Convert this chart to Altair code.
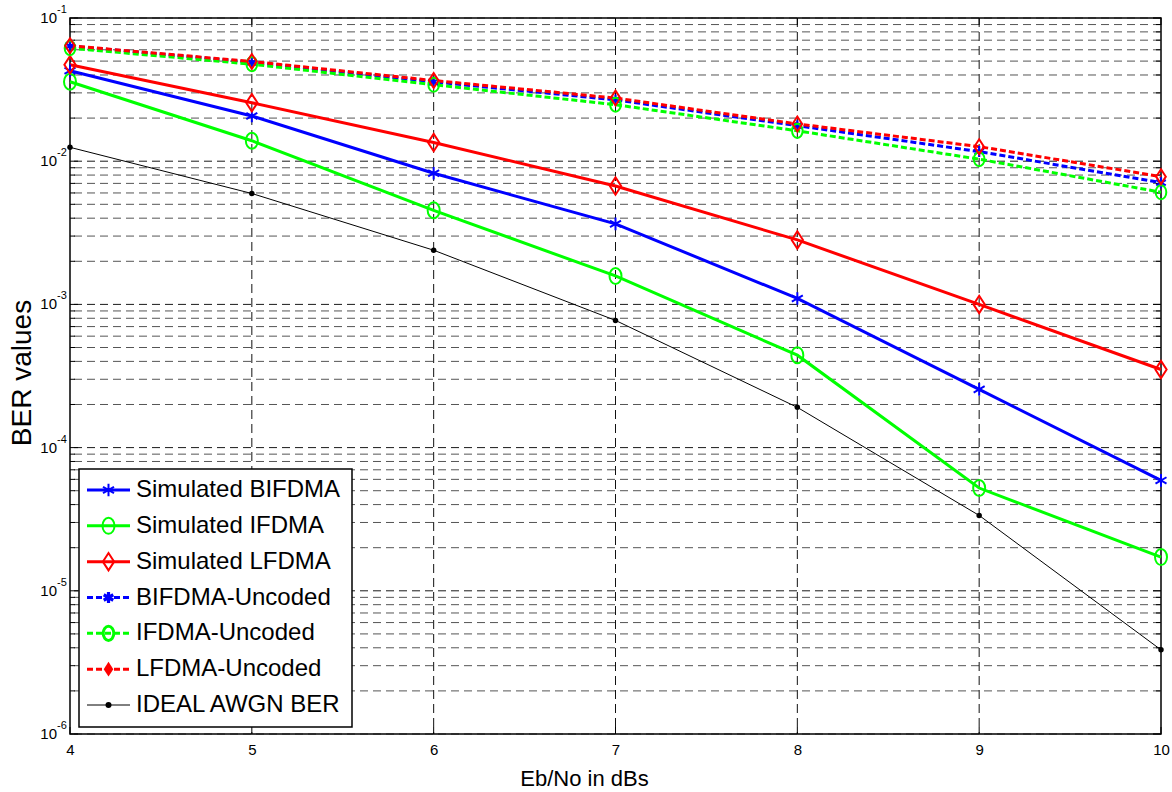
import altair as alt
import pandas as pd

# ---------------- data ----------------
snr = [4, 5, 6, 7, 8, 9, 10]
sim_bifdma = [0.0428, 0.0207, 0.00824, 0.00365, 0.00110, 0.000255, 0.0000590]
sim_ifdma = [0.0359, 0.0139, 0.00454, 0.00158, 0.000442, 0.0000522, 0.0000172]
sim_lfdma = [0.0471, 0.0256, 0.0135, 0.00671, 0.00282, 0.00100, 0.000351]
unc_bifdma = [0.0637, 0.0490, 0.0358, 0.0268, 0.0177, 0.01167, 0.00708]
unc_ifdma = [0.0616, 0.0476, 0.0342, 0.0248, 0.0163, 0.01033, 0.00607]
unc_lfdma = [0.0640, 0.0497, 0.0366, 0.0276, 0.0182, 0.01264, 0.00780]
ideal_awgn = [0.0125, 0.00595, 0.00239, 0.000773, 0.000191, 0.0000336, 0.00000387]

series_names = ["Simulated BIFDMA", "Simulated IFDMA", "Simulated LFDMA",
                "BIFDMA-Uncoded", "IFDMA-Uncoded", "LFDMA-Uncoded", "IDEAL AWGN BER"]
series_values = [sim_bifdma, sim_ifdma, sim_lfdma, unc_bifdma, unc_ifdma, unc_lfdma, ideal_awgn]
series_colors = ["#0000ff", "#00ff00", "#ff0000", "#0000ff", "#00ff00", "#ff0000", "#000000"]

x_ticks = [4, 5, 6, 7, 8, 9, 10]
x_grid = [5, 6, 7, 8, 9]
major_ticks = [1e-1, 1e-2, 1e-3, 1e-4, 1e-5, 1e-6]
exp_labels = ["-1", "-2", "-3", "-4", "-5", "-6"]
minor_mult = [2, 3, 4, 5, 6, 7, 8, 9]
minor_ticks = [m * d for d in [1e-2, 1e-3, 1e-4, 1e-5, 1e-6] for m in minor_mult]

# ---------------- styling ----------------
W, H = 1091, 716
FONT = "Liberation Sans"

STAR = "M0,-1L0,1M-0.87,-0.5L0.87,0.5M-0.87,0.5L0.87,-0.5"
CIRC = "M-0.75,0A0.75,1 0 1 1 0.75,0A0.75,1 0 1 1 -0.75,0Z"
DIAM = "M0,-1L0.65,0L0,1L-0.65,0Z"

styles = [
    dict(width=3, dash=None, shape=STAR, size=160, sw=2, filled=False),
    dict(width=3, dash=None, shape=CIRC, size=256, sw=2, filled=False),
    dict(width=3, dash=None, shape=DIAM, size=300, sw=2, filled=False),
    dict(width=3, dash=[6, 3], shape=STAR, size=120, sw=2.2, filled=False),
    dict(width=3, dash=[6, 3], shape=CIRC, size=200, sw=2, filled=False),
    dict(width=3, dash=[6, 3], shape=DIAM, size=220, sw=2, filled=False),
    dict(width=1, dash=None, shape="circle", size=30, sw=0, filled=True),
]

xscale = alt.Scale(domain=[4, 10], nice=False, zero=False)
yscale = alt.Scale(type="log", domain=[1e-6, 1e-1], nice=False)
xaxis = alt.Axis(values=x_ticks, format="d", labelFont=FONT, labelFontSize=15,
                 labelColor="black", labelPadding=8, labelFlush=False, ticks=False,
                 tickSize=0, domain=False, grid=False, title="Eb/No in dBs",
                 titleFont=FONT, titleFontSize=22, titleFontWeight="normal",
                 titleColor="black", titleX=514, titleY=51, titleBaseline="alphabetic",
                 titleAlign="center")


def X(field="snr"):
    return alt.X(f"{field}:Q", scale=xscale, axis=xaxis)


def Y(field):
    return alt.Y(f"{field}:Q", scale=yscale, axis=None)


layers = []

# grid lines
minor_df = pd.DataFrame({"v": minor_ticks})
major_df = pd.DataFrame({"v": major_ticks, "e": exp_labels})
xgrid_df = pd.DataFrame({"snr": x_grid})
xt_df = pd.DataFrame({"snr": x_ticks})

layers.append(alt.Chart(minor_df).mark_rule(color="#555555", strokeWidth=1, strokeDash=[8, 5])
              .encode(y=Y("v")))
layers.append(alt.Chart(major_df).mark_rule(color="#1a1a1a", strokeWidth=1, strokeDash=[8, 5])
              .encode(y=Y("v")))
layers.append(alt.Chart(xgrid_df).mark_rule(color="#111111", strokeWidth=1, strokeDash=[9, 5])
              .encode(x=X()))

# inward ticks
for df, ln in [(minor_df, 5), (major_df, 8)]:
    layers.append(alt.Chart(df).mark_rule(color="black", strokeWidth=1)
                  .encode(y=Y("v"), x=alt.value(0), x2=alt.value(ln)))
    layers.append(alt.Chart(df).mark_rule(color="black", strokeWidth=1)
                  .encode(y=Y("v"), x=alt.value(W - ln), x2=alt.value(W)))
layers.append(alt.Chart(xt_df).mark_rule(color="black", strokeWidth=1)
              .encode(x=X(), y=alt.value(H - 7), y2=alt.value(H)))
layers.append(alt.Chart(xt_df).mark_rule(color="black", strokeWidth=1)
              .encode(x=X(), y=alt.value(0), y2=alt.value(7)))

# data series
for name, vals, col, st in zip(series_names, series_values, series_colors, styles):
    df = pd.DataFrame({"snr": snr, "ber": vals})
    lk = dict(color=col, strokeWidth=st["width"])
    if st["dash"]:
        lk["strokeDash"] = st["dash"]
    layers.append(alt.Chart(df).mark_line(**lk).encode(x=X(), y=Y("ber")))
for name, vals, col, st in zip(series_names, series_values, series_colors, styles):
    df = pd.DataFrame({"snr": snr, "ber": vals})
    if st["filled"]:
        pk = dict(shape=st["shape"], size=st["size"], filled=True, color=col, opacity=1)
    else:
        pk = dict(shape=st["shape"], size=st["size"], filled=False, color=col,
                  strokeWidth=st["sw"], opacity=1)
    layers.append(alt.Chart(df).mark_point(**pk).encode(x=X(), y=Y("ber")))

# legend
one = pd.DataFrame({"k": [0]})
layers.append(alt.Chart(one).mark_rect(fill="white", stroke="black", strokeWidth=1.5)
              .encode(x=alt.value(9), x2=alt.value(282), y=alt.value(451), y2=alt.value(709)))
legend_df = pd.DataFrame({"idx": list(range(len(series_names))), "name": series_names})
ly = alt.Y("idx:Q", scale=alt.Scale(domain=[0, 6], range=[472, 687]), axis=None)
for i, (col, st) in enumerate(zip(series_colors, styles)):
    row = legend_df.iloc[[i]]
    lk = dict(color=col, strokeWidth=st["width"] if i < 6 else 1)
    if st["dash"]:
        lk["strokeDash"] = st["dash"]
    layers.append(alt.Chart(row).mark_rule(**lk)
                  .encode(x=alt.value(17), x2=alt.value(60), y=ly))
    if st["filled"]:
        pk = dict(shape=st["shape"], size=st["size"] + 6, filled=True, color=col, opacity=1)
    else:
        pk = dict(shape=st["shape"], size=st["size"], filled=(i == 5), color=col,
                  strokeWidth=st["sw"] + (1.0 if i >= 3 else 0), opacity=1)
    layers.append(alt.Chart(row).mark_point(**pk).encode(x=alt.value(38.5), y=ly))
layers.append(alt.Chart(legend_df).mark_text(align="left", baseline="middle", font=FONT,
                                             fontSize=24, color="black")
              .encode(x=alt.value(66), y=ly, text="name:N"))

# y tick labels with superscript exponents
layers.append(alt.Chart(major_df).mark_text(align="right", baseline="middle", font=FONT,
                                            fontSize=15, color="black")
              .encode(x=alt.value(-13), y=Y("v"), text=alt.value("10")))
layers.append(alt.Chart(major_df).mark_text(align="left", baseline="middle", font=FONT,
                                            fontSize=11, color="black", dy=-8)
              .encode(x=alt.value(-13), y=Y("v"), text="e:N"))

# y title
layers.append(alt.Chart(one).mark_text(angle=270, align="center", baseline="middle",
                                       font=FONT, fontSize=28, color="black")
              .encode(x=alt.value(-47), y=alt.value(H / 2 - 3), text=alt.value("BER values")))

chart = (alt.layer(*layers)
         .resolve_scale(y="independent")
         .properties(width=W, height=H, autosize=alt.AutoSizeParams(type="none"),
                     padding={"left": 70, "top": 18, "right": 11, "bottom": 58},
                     background="white")
         .configure_view(stroke="black", strokeWidth=1.5))

chart.save("out.html", embed_options={"renderer": "svg", "actions": False})
